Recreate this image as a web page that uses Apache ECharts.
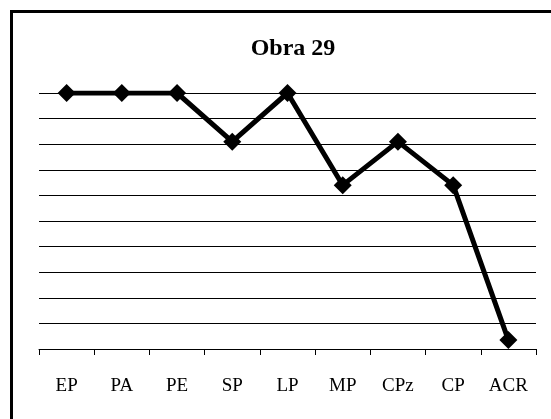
<!DOCTYPE html>
<html>
<head>
<meta charset="utf-8">
<script src="https://cdn.jsdelivr.net/npm/echarts@6/dist/echarts.min.js"></script>
<style>
  html, body { margin: 0; padding: 0; background: #fff; }
  #chart { width: 551px; height: 419px; }
</style>
</head>
<body>
<div id="chart"></div>
<script>
// categories and values (0-10 scale, no y labels shown)
const categories = ['EP', 'PA', 'PE', 'SP', 'LP', 'MP', 'CPz', 'CP', 'ACR'];
const scores = [10, 10, 10, 8.1, 10, 6.4, 8.1, 6.4, 0.35];

const chart = echarts.init(document.getElementById('chart'));

const option = {
  backgroundColor: '#fff',
  animation: false,
  title: {
    text: 'Obra 29',
    left: 288,
    top: 32,
    textAlign: 'center',
    textStyle: {
      fontFamily: 'Liberation Serif',
      fontWeight: 'bold',
      fontSize: 24,
      color: '#000'
    }
  },
  // outer frame, cropped at right and bottom
  graphic: [{
    type: 'rect',
    shape: { x: 11.5, y: 11.5, width: 560, height: 440 },
    style: { fill: 'none', stroke: '#000', lineWidth: 3 },
    silent: true
  }],
  grid: {
    left: 39,
    right: 15,
    top: 93,
    bottom: 70
  },
  xAxis: {
    type: 'category',
    data: categories,
    boundaryGap: true,
    axisLine: { lineStyle: { color: '#000', width: 1 } },
    axisTick: { show: true, length: 6, lineStyle: { color: '#000' } },
    axisLabel: {
      fontFamily: 'Liberation Serif',
      fontSize: 19,
      color: '#000',
      margin: 28
    }
  },
  yAxis: {
    type: 'value',
    min: 0,
    max: 10,
    interval: 1,
    axisLine: { show: false },
    axisTick: { show: false },
    axisLabel: { show: false },
    splitLine: { show: true, lineStyle: { color: '#000', width: 1 } }
  },
  series: [{
    type: 'line',
    data: scores,
    symbol: 'diamond',
    symbolSize: 18,
    itemStyle: { color: '#000' },
    lineStyle: { color: '#000', width: 5 }
  }]
};

chart.setOption(option);
</script>
</body>
</html>
